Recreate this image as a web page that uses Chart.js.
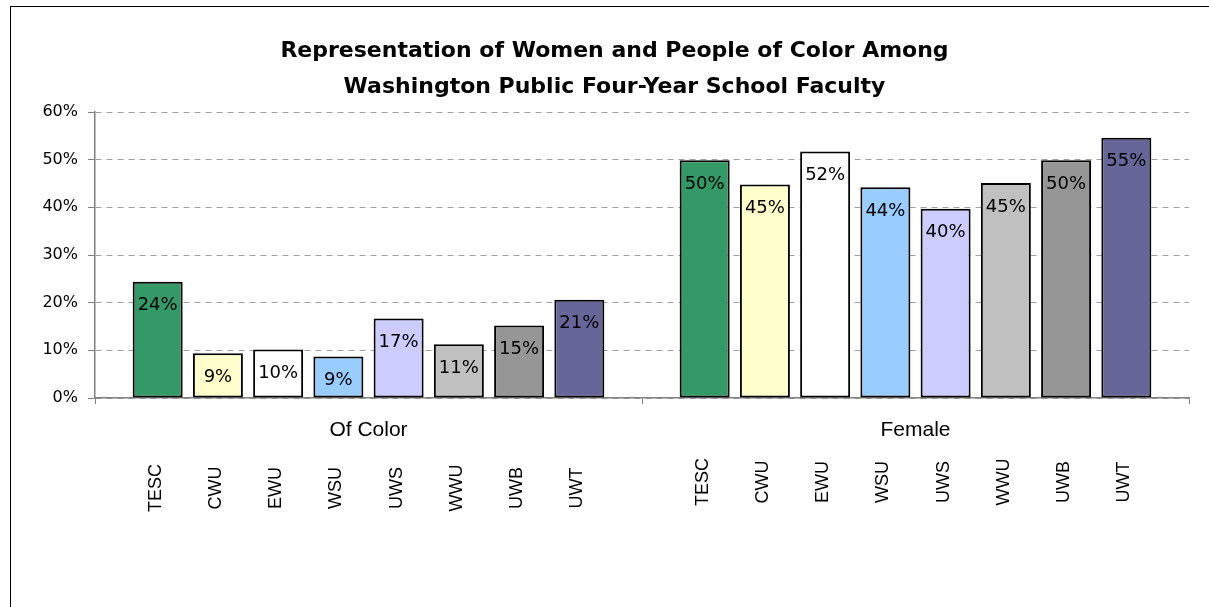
<!DOCTYPE html>
<html>
<head>
<meta charset="utf-8">
<script src="https://cdn.jsdelivr.net/npm/chart.js@4"></script>
<style>
  html, body { margin: 0; padding: 0; background: #fff; }
  #wrap { width: 1209px; height: 607px; }
</style>
</head>
<body>
<div id="wrap"><canvas id="myChart" width="1209" height="607"></canvas></div>
<script>
const groups = ['Of Color', 'Female'];
const schools = ['TESC', 'CWU', 'EWU', 'WSU', 'UWS', 'WWU', 'UWB', 'UWT'];
const ofColor = [24.4, 9.4, 10.2, 8.7, 16.7, 11.3, 15.2, 20.6];
const female = [49.9, 44.8, 51.7, 44.2, 39.7, 45.1, 49.9, 54.6];
const yTicks = [0, 10, 20, 30, 40, 50, 60];
const colors = ['#339966', '#ffffcc', '#ffffff', '#99ccff', '#ccccff', '#c0c0c0', '#969696', '#666699'];

const datasets = schools.map((s, i) => ({
  label: s,
  data: [ofColor[i], female[i]],
  backgroundColor: colors[i],
  borderColor: '#000',
  borderWidth: 2,
  borderSkipped: false,
  categoryPercentage: 0.881,
  barPercentage: 0.83
}));

// white page + outer frame
const frame = {
  id: 'frame',
  beforeDraw(chart) {
    const ctx = chart.ctx;
    ctx.save();
    ctx.fillStyle = '#fff';
    ctx.fillRect(0, 0, chart.width, chart.height);
    ctx.strokeStyle = '#000';
    ctx.lineWidth = 1;
    ctx.strokeRect(10.5, 6.5, 1400, 800);
    ctx.restore();
  }
};

// value labels inside bar tops, school names rotated under each bar
const barText = {
  id: 'barText',
  afterDatasetsDraw(chart) {
    const ctx = chart.ctx;
    const bottom = chart.chartArea.bottom;
    ctx.save();
    chart.data.datasets.forEach((ds, i) => {
      const meta = chart.getDatasetMeta(i);
      meta.data.forEach((bar, j) => {
        ctx.fillStyle = '#000';
        ctx.font = '18px "DejaVu Sans"';
        ctx.textAlign = 'center';
        ctx.textBaseline = 'middle';
        ctx.fillText(Math.round(ds.data[j]) + '%', bar.x, bar.y + 24);

        ctx.save();
        ctx.translate(bar.x - 2, bottom + (j === 0 ? 90 : 84));
        ctx.rotate(-Math.PI / 2);
        ctx.font = '18px "Liberation Sans"';
        ctx.fillText(ds.label, 0, 0);
        ctx.restore();
      });
    });
    ctx.restore();
  }
};

new Chart(document.getElementById('myChart'), {
  type: 'bar',
  data: { labels: groups, datasets: datasets },
  options: {
    responsive: false,
    animation: false,
    layout: { padding: { left: 40, right: 20, top: 20, bottom: 0 } },
    scales: {
      x: {
        grid: { drawOnChartArea: false, drawTicks: true, tickLength: 6, color: '#808080', offset: true },
        border: { color: '#808080', width: 1.5 },
        ticks: { color: '#000', font: { family: 'Liberation Sans', size: 21 }, padding: 14 },
        afterFit(scale) { scale.height = 209; }
      },
      y: {
        min: 0,
        max: 60,
        afterBuildTicks(scale) { scale.ticks = yTicks.map(v => ({ value: v })); },
        grid: { color: '#a0a0a0', tickLength: 7, tickColor: '#808080' },
        border: { color: '#808080', width: 1.5, dash: [6, 5] },
        ticks: { color: '#000', font: { family: 'DejaVu Sans', size: 16 }, padding: 10, callback: v => v + '%' },
        afterFit(scale) { scale.width = 55; }
      }
    },
    plugins: {
      legend: { display: false },
      tooltip: { enabled: false },
      title: {
        display: true,
        text: ['Representation of Women and People of Color Among', 'Washington Public Four-Year School Faculty'],
        color: '#000',
        font: { family: 'DejaVu Sans', size: 22, weight: 'bold', lineHeight: 1.6 },
        padding: { top: 14, bottom: 7.6 }
      }
    }
  },
  plugins: [frame, barText]
});
</script>
</body>
</html>
